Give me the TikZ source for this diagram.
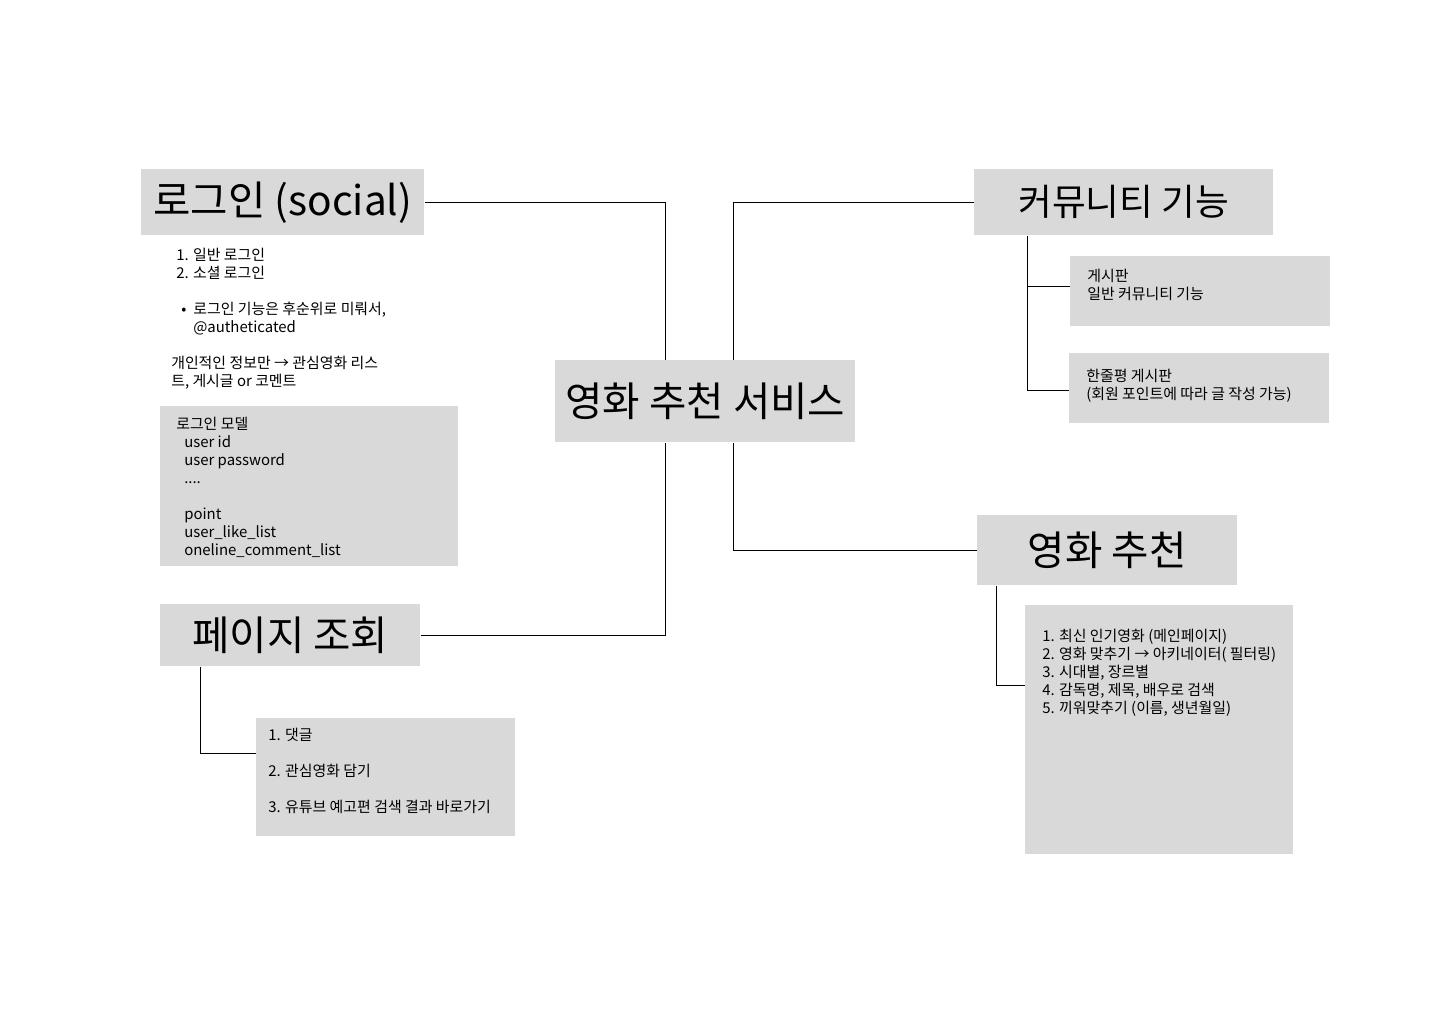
\documentclass[tikz,border=0pt]{standalone}
\usepackage{fontspec}
\setmainfont{Noto Sans CJK KR}
\usepackage{xcolor}
\usetikzlibrary{positioning}
\definecolor{boxgray}{HTML}{D9D9D9}
\newdimen\pxu
\pxu=0.75pt

\begin{document}
\begin{tikzpicture}[x=0.75pt,y=-0.75pt]
    \tikzset{
        head node/.style={fill=boxgray, inner sep=0, anchor=north west, font=\fontsize{30.5}{36}\selectfont},
        box node/.style={fill=boxgray, inner sep=0, anchor=north west},
        note node/.style={align=left, inner sep=0, anchor=north west, font=\fontsize{11.2}{13.5}\selectfont},
        link/.style={draw=black, line width=0.75pt}
      }
\useasboundingbox (0,0) rectangle (1440,1024);
% main topic
\node[head node, minimum width=300\pxu, minimum height=82\pxu] (center) at (555,360) {영화 추천 서비스};
% topics
\node[head node, minimum width=283\pxu, minimum height=66\pxu] (login) at (141,169) {로그인 (social)};
\node[head node, minimum width=299\pxu, minimum height=66\pxu, font=\fontsize{27.5}{32}\selectfont] (comm) at (974,169) {커뮤니티 기능};
\node[head node, minimum width=260\pxu, minimum height=70\pxu] (rec) at (977,515) {영화 추천};
\node[head node, minimum width=260\pxu, minimum height=62\pxu] (page) at (160,604) {페이지 조회};
% login notes
\node[note node] (loginitems) at ([shift={(35,12)}]login.south west) {1. 일반 로그인\\2. 소셜 로그인\\[13.5pt]
    \hspace*{5\pxu}•\hspace{7\pxu}로그인 기능은 후순위로 미뤄서,\\\hspace*{17\pxu}@autheticated};
\node[note node] (loginmemo) at ([shift={(30,120)}]login.south west) {개인적인 정보만 → 관심영화 리스\\트, 게시글 or 코멘트};
\node[box node, minimum width=298\pxu, minimum height=160\pxu] (model) at (160,406) {};
\node[note node] (modeltext) at ([shift={(16,11)}]model.north west) {로그인 모델\\
    \hspace*{8\pxu}user id\\\hspace*{8\pxu}user password\\\hspace*{8\pxu}....\\[13.5pt]
    \hspace*{8\pxu}point\\\hspace*{8\pxu}user\_like\_list\\\hspace*{8\pxu}oneline\_comment\_list};
% community notes
\node[box node, minimum width=260\pxu, minimum height=70\pxu] (board) at (1070,256) {};
\node[note node] (boardtext) at ([shift={(17,13)}]board.north west) {게시판\\일반 커뮤니티 기능};
\node[box node, minimum width=260\pxu, minimum height=70\pxu] (review) at (1069,353) {};
\node[note node] (reviewtext) at ([shift={(17,16)}]review.north west) {한줄평 게시판\\(회원 포인트에 따라 글 작성 가능)};
% recommendation notes
\node[box node, minimum width=268\pxu, minimum height=249\pxu] (reclist) at (1025,605) {};
\node[note node] (reclisttext) at ([shift={(17,24)}]reclist.north west) {1. 최신 인기영화 (메인페이지)\\2. 영화 맞추기 → 아키네이터( 필터링)\\3. 시대별, 장르별\\4. 감독명, 제목, 배우로 검색\\5. 끼워맞추기 (이름, 생년월일)};
% page notes
\node[box node, minimum width=259\pxu, minimum height=118\pxu] (pagelist) at (256,718) {};
\node[note node] (pagelisttext) at ([shift={(12,10)}]pagelist.north west) {1. 댓글\\[13.5pt]2. 관심영화 담기\\[13.5pt]3. 유튜브 예고편 검색 결과 바로가기};
% connectors
\draw[link] (login.east) -| ([xshift=-40\pxu]center.north);
\draw[link] (comm.west) -| ([xshift=28\pxu]center.north);
\draw[link] (page.east) -| ([xshift=-40\pxu]center.south);
\draw[link] (rec.west) -| ([xshift=28\pxu]center.south);
\draw[link] ([xshift=53\pxu]comm.south west) |- ([yshift=5\pxu]board.west);
\draw[link] ([xshift=53\pxu]comm.south west) |- ([yshift=-2\pxu]review.west);
\draw[link] ([xshift=19\pxu]rec.south west) |- ([yshift=44\pxu]reclist.west);
\draw[link] ([xshift=40\pxu]page.south west) |- ([yshift=24\pxu]pagelist.west);
\end{tikzpicture}
\end{document}
